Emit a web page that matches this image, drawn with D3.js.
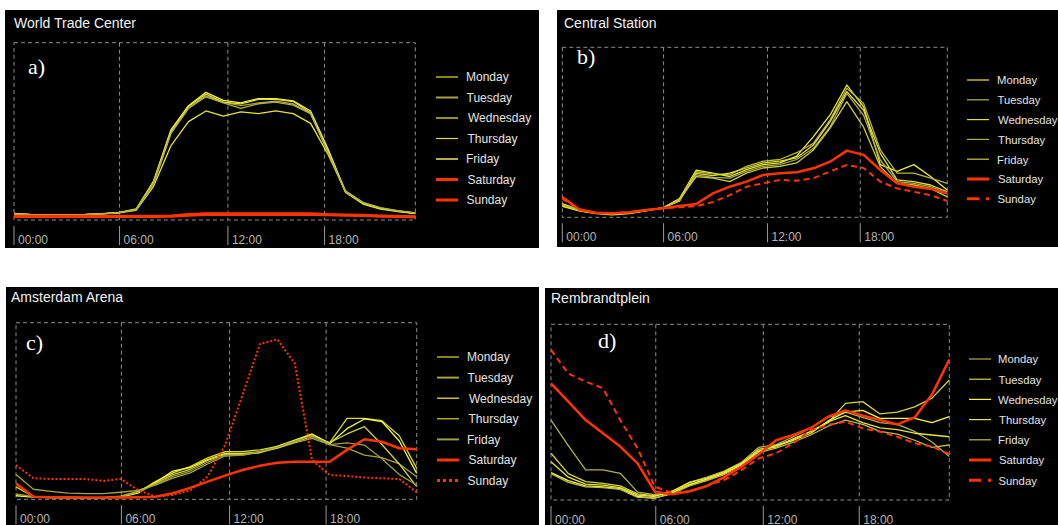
<!DOCTYPE html>
<html>
<head>
<meta charset="utf-8">
<script src="https://cdn.jsdelivr.net/npm/d3@7/dist/d3.min.js"></script>
<style>
  html, body { margin: 0; padding: 0; background: #ffffff; }
  svg { display: block; }
</style>
</head>
<body>
<svg id="chart" width="1058" height="525"></svg>
<script>
// Hourly activity profiles (normalised 0..1) for four Amsterdam locations.
const hours = [0,1,2,3,4,5,6,7,8,9,10,11,12,13,14,15,16,17,18,19,20,21,22,23];
const days = ['Monday','Tuesday','Wednesday','Thursday','Friday','Saturday','Sunday'];
const tickHours = [0, 6.05, 12.26, 17.8];
const tickLabels = ['00:00','06:00','12:00','18:00'];

// World Trade Center
const wtcValues = [
  [0.035,0.03,0.03,0.03,0.03,0.035,0.04,0.055,0.19,0.42,0.555,0.615,0.586,0.61,0.6,0.615,0.6,0.545,0.37,0.16,0.095,0.066,0.05,0.038],
  [0.035,0.03,0.03,0.03,0.03,0.035,0.04,0.058,0.2,0.49,0.63,0.70,0.665,0.645,0.66,0.67,0.655,0.6,0.39,0.165,0.1,0.07,0.053,0.04],
  [0.037,0.03,0.03,0.03,0.03,0.036,0.042,0.062,0.22,0.51,0.645,0.72,0.675,0.66,0.685,0.685,0.672,0.615,0.4,0.16,0.095,0.065,0.05,0.038],
  [0.035,0.03,0.03,0.03,0.03,0.035,0.042,0.06,0.215,0.5,0.64,0.71,0.665,0.655,0.68,0.68,0.668,0.605,0.385,0.155,0.09,0.062,0.048,0.036],
  [0.035,0.03,0.03,0.03,0.03,0.035,0.04,0.058,0.21,0.49,0.63,0.695,0.66,0.63,0.655,0.665,0.648,0.6,0.38,0.16,0.098,0.068,0.052,0.04],
  [0.022,0.022,0.022,0.022,0.022,0.022,0.022,0.022,0.022,0.024,0.032,0.037,0.037,0.037,0.037,0.037,0.037,0.037,0.032,0.03,0.028,0.024,0.022,0.02],
  [0.018,0.018,0.018,0.018,0.018,0.018,0.018,0.018,0.018,0.02,0.026,0.03,0.03,0.03,0.03,0.03,0.03,0.03,0.028,0.026,0.024,0.02,0.018,0.016]
];

// Central Station
const centralValues = [
  [0.08,0.045,0.028,0.02,0.026,0.04,0.055,0.11,0.278,0.26,0.24,0.28,0.31,0.32,0.36,0.475,0.602,0.778,0.65,0.31,0.27,0.31,0.24,0.16],
  [0.07,0.04,0.025,0.018,0.025,0.04,0.055,0.1,0.268,0.255,0.25,0.3,0.33,0.34,0.38,0.435,0.573,0.759,0.67,0.396,0.26,0.26,0.23,0.2],
  [0.065,0.038,0.022,0.015,0.022,0.038,0.055,0.095,0.259,0.245,0.26,0.29,0.32,0.33,0.35,0.425,0.563,0.739,0.63,0.376,0.22,0.21,0.19,0.15],
  [0.075,0.045,0.028,0.022,0.028,0.04,0.055,0.1,0.249,0.235,0.23,0.27,0.3,0.31,0.34,0.406,0.533,0.729,0.6,0.337,0.21,0.2,0.18,0.14],
  [0.07,0.04,0.025,0.02,0.025,0.04,0.055,0.105,0.239,0.23,0.21,0.26,0.29,0.3,0.32,0.396,0.524,0.68,0.53,0.298,0.2,0.19,0.17,0.12],
  [0.12,0.047,0.027,0.024,0.03,0.043,0.053,0.066,0.078,0.141,0.18,0.21,0.249,0.259,0.265,0.288,0.327,0.392,0.367,0.278,0.2,0.18,0.167,0.141],
  [0.11,0.045,0.027,0.024,0.03,0.043,0.053,0.059,0.065,0.09,0.13,0.18,0.2,0.22,0.215,0.23,0.27,0.308,0.29,0.21,0.17,0.15,0.13,0.096]
];

// Amsterdam Arena
const arenaValues = [
  [0.09,0.015,0.01,0.01,0.01,0.01,0.015,0.04,0.1,0.15,0.185,0.235,0.27,0.27,0.28,0.3,0.33,0.365,0.32,0.458,0.458,0.445,0.36,0.175],
  [0.14,0.057,0.045,0.035,0.032,0.032,0.04,0.05,0.08,0.12,0.15,0.2,0.245,0.25,0.265,0.29,0.32,0.345,0.31,0.29,0.25,0.236,0.2,0.128],
  [0.02,0.012,0.01,0.01,0.008,0.008,0.012,0.035,0.095,0.16,0.18,0.225,0.26,0.26,0.265,0.3,0.335,0.37,0.315,0.4,0.455,0.44,0.33,0.147],
  [0.07,0.015,0.01,0.01,0.01,0.01,0.018,0.045,0.09,0.14,0.17,0.22,0.255,0.255,0.27,0.29,0.325,0.355,0.32,0.37,0.411,0.31,0.2,0.072],
  [0.03,0.015,0.012,0.012,0.01,0.01,0.015,0.04,0.085,0.13,0.16,0.21,0.25,0.25,0.27,0.295,0.33,0.36,0.31,0.32,0.307,0.23,0.14,0.081],
  [0.09,0.015,0.012,0.012,0.01,0.01,0.01,0.012,0.015,0.034,0.065,0.1,0.134,0.166,0.19,0.207,0.213,0.213,0.213,0.28,0.34,0.326,0.289,0.283],
  [0.194,0.119,0.115,0.115,0.115,0.104,0.115,0.053,0.015,0.025,0.05,0.128,0.307,0.59,0.88,0.906,0.77,0.222,0.138,0.132,0.123,0.119,0.115,0.04]
];

// Rembrandtplein
const rembrandtValues = [
  [0.455,0.31,0.171,0.171,0.152,0.045,0.03,0.05,0.1,0.13,0.165,0.215,0.3,0.315,0.36,0.41,0.47,0.5,0.47,0.44,0.43,0.39,0.33,0.247],
  [0.266,0.15,0.105,0.095,0.08,0.035,0.025,0.045,0.09,0.115,0.155,0.205,0.29,0.3,0.35,0.39,0.44,0.55,0.56,0.49,0.5,0.53,0.58,0.683],
  [0.156,0.11,0.08,0.075,0.065,0.02,0.01,0.04,0.085,0.12,0.15,0.2,0.275,0.31,0.34,0.38,0.45,0.5,0.51,0.465,0.465,0.465,0.44,0.474],
  [0.218,0.13,0.09,0.085,0.07,0.028,0.02,0.05,0.1,0.125,0.16,0.21,0.28,0.31,0.345,0.39,0.445,0.48,0.44,0.41,0.4,0.38,0.37,0.36],
  [0.15,0.1,0.075,0.07,0.06,0.015,0.012,0.035,0.08,0.11,0.145,0.19,0.27,0.295,0.33,0.37,0.42,0.455,0.43,0.39,0.375,0.34,0.3,0.313],
  [0.664,0.56,0.455,0.38,0.304,0.209,0.047,0.032,0.05,0.08,0.13,0.19,0.26,0.34,0.37,0.41,0.474,0.51,0.48,0.455,0.43,0.47,0.6,0.8],
  [0.854,0.72,0.674,0.636,0.455,0.294,0.076,0.04,0.05,0.08,0.114,0.17,0.237,0.266,0.323,0.398,0.427,0.446,0.408,0.389,0.36,0.323,0.304,0.262]
];

// Weekday line colours per location; weekend is always red-orange
const wtcColors = ['#e4e42c','#a4a440','#f4f440','#dede36','#b0b04a'];
const centralColors = ['#ecec30','#b4b44a','#e0e032','#acac48','#cccc40'];
const arenaColors = ['#dada28','#a4a440','#f6f640','#d0d034','#9c9c40'];
const rembrandtColors = ['#b0b04c','#d4d43c','#f6f63e','#e4e43c','#bcbc4c'];
const weekendColor = '#ff3300';

const panels = [
  { title: 'World Trade Center', letter: 'a)', values: wtcValues, colors: wtcColors, legendWidths: [1.2,2,1.2,1.2,2],
    sunday: 'solid', bg: [5,10,534,238], box: [14,415.3,42.7,220], titlePos: [14,28], letterPos: [28,74],
    legend: [436,466,77,20.5], legendSize: 12, legendDx: [0,0.5,2,1.5,0,1.5,0.5] },
  { title: 'Central Station', letter: 'b)', values: centralValues, colors: centralColors, legendWidths: [1.2,1.2,1.2,1.2,1.2],
    sunday: 'dash', bg: [557,10,501,237], box: [562.3,947.3,47.3,217.3], titlePos: [564,28], letterPos: [577,64],
    legend: [967,997,80,19.8], legendSize: 11.3, legendDx: [0,0.5,1,1,0,1,0.5] },
  { title: 'Amsterdam Arena', letter: 'c)', values: arenaValues, colors: arenaColors, legendWidths: [1.2,2,1.2,1.2,2],
    sunday: 'dot', bg: [6,287,533,238], box: [16,416.7,322.7,499.3], titlePos: [11,302], letterPos: [26,350],
    legend: [437,467,357,20.6], legendSize: 12, legendDx: [0,0.5,2,1.5,0,1.5,0.5] },
  { title: 'Rembrandtplein', letter: 'd)', values: rembrandtValues, colors: rembrandtColors, legendWidths: [1.2,1.2,1.2,1.2,1.2],
    sunday: 'dash', bg: [545,288,513,237], box: [551,949.3,324.3,500], titlePos: [551,302.5], letterPos: [598,348],
    legend: [969,998,359,20.2], legendSize: 11.3, legendDx: [0,0.5,0,1,0,1,0.5] }
];

const svg = d3.select('#chart');

panels.forEach(p => {
  const g = svg.append('g');
  const [bx, by, bw, bh] = p.bg;
  const [x0, x1, y0, y1] = p.box;

  g.append('rect').attr('x', bx).attr('y', by).attr('width', bw).attr('height', bh).attr('fill', '#000');

  const x = d3.scaleLinear().domain([0, 23]).range([x0, x1]);
  const y = d3.scaleLinear().domain([0, 1]).range([y1, y0]);

  // dashed plot frame
  g.append('rect')
    .attr('x', x0).attr('y', y0).attr('width', x1 - x0).attr('height', y1 - y0)
    .attr('fill', 'none').attr('stroke', '#8c8c8c').attr('stroke-width', 1)
    .attr('stroke-dasharray', '4,3');

  // vertical dashed grid lines at the time ticks
  g.selectAll('.grid').data(tickHours.slice(1)).enter().append('line')
    .attr('x1', d => x(d)).attr('x2', d => x(d))
    .attr('y1', y0).attr('y2', y1)
    .attr('stroke', '#8c8c8c').attr('stroke-width', 1).attr('stroke-dasharray', '4,3');

  // axis ticks and labels below the frame
  const axis = g.selectAll('.tick').data(tickHours).enter().append('g');
  axis.append('line')
    .attr('x1', d => x(d)).attr('x2', d => x(d))
    .attr('y1', y1 + 6).attr('y2', y1 + 25)
    .attr('stroke', '#9a9a9a').attr('stroke-width', 1);
  axis.append('text')
    .attr('x', d => x(d) + 4).attr('y', y1 + 23.5)
    .attr('fill', '#b4b4b4')
    .attr('font-family', 'Liberation Sans, Arial, sans-serif')
    .attr('font-size', 12)
    .text((d, i) => tickLabels[i]);

  // title
  g.append('text')
    .attr('x', p.titlePos[0]).attr('y', p.titlePos[1])
    .attr('fill', '#f2f2f2')
    .attr('font-family', 'Liberation Sans, Arial, sans-serif')
    .attr('font-size', 14)
    .text(p.title);

  // panel letter
  g.append('text')
    .attr('x', p.letterPos[0]).attr('y', p.letterPos[1])
    .attr('fill', '#ffffff')
    .attr('font-family', 'Liberation Serif, Times New Roman, serif')
    .attr('font-size', 22)
    .text(p.letter);

  const line = d3.line().x((d, i) => x(hours[i])).y(d => y(d));

  const styleOf = i => {
    if (i < 5) return { color: p.colors[i], width: 1.3, dash: null };
    if (i === 5) return { color: weekendColor, width: 2.5, dash: null };
    if (p.sunday === 'dash') return { color: weekendColor, width: 2, dash: '6,4' };
    if (p.sunday === 'dot') return { color: weekendColor, width: 2, dash: '2,2' };
    return { color: weekendColor, width: 2.5, dash: null };
  };

  p.values.forEach((series, i) => {
    const s = styleOf(i);
    g.append('path')
      .datum(series)
      .attr('d', line)
      .attr('fill', 'none')
      .attr('stroke', s.color)
      .attr('stroke-width', s.width)
      .attr('stroke-linejoin', 'round')
      .attr('stroke-dasharray', s.dash);
  });

  // legend
  const [lx, tx, ly0, ldy] = p.legend;
  days.forEach((day, i) => {
    const yy = ly0 + i * ldy;
    let w, dash = null, color;
    if (i < 5) { w = p.legendWidths[i]; color = p.colors[i]; }
    else {
      w = 3; color = weekendColor;
      if (i === 6 && p.sunday === 'dash') dash = '12,7';
      if (i === 6 && p.sunday === 'dot') dash = '3,3';
    }
    g.append('line')
      .attr('x1', lx).attr('x2', lx + 22)
      .attr('y1', yy).attr('y2', yy)
      .attr('stroke', color).attr('stroke-width', w)
      .attr('stroke-dasharray', dash);
    g.append('text')
      .attr('x', tx + p.legendDx[i]).attr('y', yy + 4.3)
      .attr('fill', '#e4e4e4')
      .attr('font-family', 'Liberation Sans, Arial, sans-serif')
      .attr('font-size', p.legendSize)
      .text(day);
  });
});
</script>
</body>
</html>
